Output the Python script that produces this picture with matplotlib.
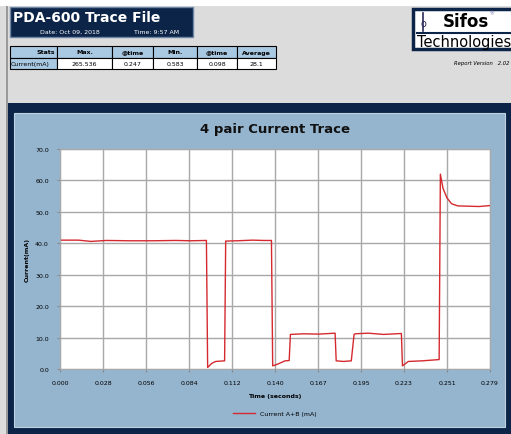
#!/usr/bin/env python

import matplotlib
matplotlib.use('Agg')
import matplotlib.pyplot as plt
from matplotlib.patches import Rectangle
from matplotlib.lines import Line2D

# trace data
time_s = [0.000, 0.012, 0.020, 0.030, 0.045, 0.060, 0.075, 0.085, 0.0950, 0.0958,
          0.0985, 0.101, 0.104, 0.1068, 0.1075, 0.115, 0.125, 0.132, 0.1372, 0.1380,
          0.141, 0.146, 0.1487, 0.1495, 0.158, 0.168, 0.1785, 0.1792, 0.184, 0.189,
          0.1908, 0.1915, 0.200, 0.210, 0.2215, 0.2222, 0.226, 0.235, 0.2460, 0.2468,
          0.2485, 0.251, 0.254, 0.258, 0.265, 0.272, 0.279]
current_ma = [41.0, 41.0, 40.6, 40.9, 40.8, 40.8, 40.9, 40.8, 40.9, 0.5,
              1.8, 2.4, 2.5, 2.6, 40.7, 40.8, 41.0, 40.9, 40.9, 1.0,
              1.5, 2.6, 2.7, 11.0, 11.2, 11.1, 11.4, 2.6, 2.4, 2.6,
              11.0, 11.2, 11.4, 11.0, 11.3, 1.0, 2.4, 2.6, 3.0, 62.0,
              57.5, 54.5, 52.6, 51.9, 51.8, 51.7, 52.0]

x_ticks = [0.0, 0.0279, 0.0558, 0.0837, 0.1116, 0.1395, 0.1674, 0.1953, 0.2232, 0.2511, 0.279]
x_labels = ['0.000', '0.028', '0.056', '0.084', '0.112', '0.140', '0.167', '0.195', '0.223', '0.251', '0.279']
y_ticks = [0, 10, 20, 30, 40, 50, 60, 70]

stats_cols = ['Stats', 'Max.', '@time', 'Min.', '@time', 'Average']
stats_row = ['Current(mA)', '265.536', '0.247', '0.583', '0.098', '28.1']

W, H = 511, 435
NAVY = '#0c2448'
PANEL = '#95b5cf'
CELL = '#a9c8e2'


def rect(fig, x, y, w, h, fc, ec='none', lw=0.8):
    fig.patches.append(Rectangle((x / W, 1 - (y + h) / H), w / W, h / H,
                                 transform=fig.transFigure, fc=fc, ec=ec, lw=lw, zorder=0))


def txt(fig, x, y, s, **kw):
    fig.text(x / W, 1 - y / H, s, **kw)


fig = plt.figure(figsize=(W / 100, H / 100), dpi=100, facecolor='#dcdcdc')
rect(fig, 0, 0, W, 7, 'white')
rect(fig, 6, 7, 1.5, H - 7, '#9a9a9a')

# header
rect(fig, 10, 8, 183, 30, NAVY, '#6d86a6', 1.0)
txt(fig, 13, 18, 'PDA-600 Trace File', color='white', fontsize=10, fontweight='bold', va='center')
txt(fig, 40, 32, 'Date: Oct 09, 2018', color='white', fontsize=4.5, va='center')
txt(fig, 134, 32, 'Time: 9:57 AM', color='white', fontsize=4.5, va='center')

# stats table
col_x = [10, 57, 112, 153, 197, 237, 276]
for i in range(len(stats_cols)):
    x0, x1 = col_x[i], col_x[i + 1]
    rect(fig, x0, 47, x1 - x0, 12, CELL, 'black', 0.8)
    rect(fig, x0, 59, x1 - x0, 11, CELL if i == 0 else 'white', 'black', 0.8)
    ha = 'right' if i == 0 else 'center'
    xt = x1 - 2 if i == 0 else (x0 + x1) / 2
    txt(fig, xt, 53, stats_cols[i], fontsize=4.5, fontweight='bold', ha=ha, va='center')
    txt(fig, xt if i else x0 + 1, 64.5, stats_row[i], fontsize=4.5,
        ha='center' if i else 'left', va='center')

# logo
rect(fig, 413, 10, 100, 40, 'white', NAVY, 2.5)
txt(fig, 443, 22, 'Sifos', fontsize=12, fontweight='bold', va='center', color='black')
txt(fig, 489, 14, '®', fontsize=3.5, va='center', color='#6a6aa8')
fig.add_artist(Line2D([417 / W, 511 / W], [1 - 34 / H, 1 - 34 / H], color=NAVY, lw=1.5))
fig.add_artist(Line2D([423 / W, 423 / W], [1 - 14 / H, 1 - 32 / H], color='#2a2a5a', lw=1.2))
txt(fig, 423, 24, 'o', fontsize=7, ha='center', va='center', color='#2a2a5a')
txt(fig, 417, 43, 'Technologies', fontsize=10.5, va='center', color='black')
txt(fig, 509, 63, 'Report Version   2.02', fontsize=3.8, style='italic', ha='right', va='center')

# chart panel
rect(fig, 8, 104, W - 8, H - 104, NAVY)
rect(fig, 14, 114, 491, 314, PANEL, '#c0d2e0', 0.8)
txt(fig, 275, 130, '4 pair Current Trace', fontsize=9.5, fontweight='bold', ha='center', va='center', color='#111111')

ax = fig.add_axes([60 / W, 1 - 370 / H, 430 / W, 220 / H])
ax.set_zorder(5)
ax.set_facecolor('white')
ax.plot(time_s, current_ma, color='#d42a2f', lw=1.0, label='Current A+B (mA)')
ax.set_xlim(0, 0.279)
ax.set_ylim(0, 70)
ax.set_xticks(x_ticks)
ax.set_xticklabels(x_labels)
ax.set_yticks(y_ticks)
ax.set_yticklabels(['%.1f' % v for v in y_ticks])
ax.tick_params(labelsize=4.5, length=2, color='#888888', pad=6)
ax.grid(True, color='#a8a8a8', lw=1.0)
for s in ax.spines.values():
    s.set_color('#a8a8a8')
ax.set_xlabel('Time (seconds)', fontsize=4.5, fontweight='bold', labelpad=6)
ax.set_ylabel('Current(mA)', fontsize=4.5, fontweight='bold', labelpad=4)
ax.legend(loc='center', bbox_to_anchor=(0.5, -0.2), frameon=False, fontsize=4.5,
          handlelength=3.5)

fig.savefig('out.png', dpi=100, facecolor=fig.get_facecolor())
